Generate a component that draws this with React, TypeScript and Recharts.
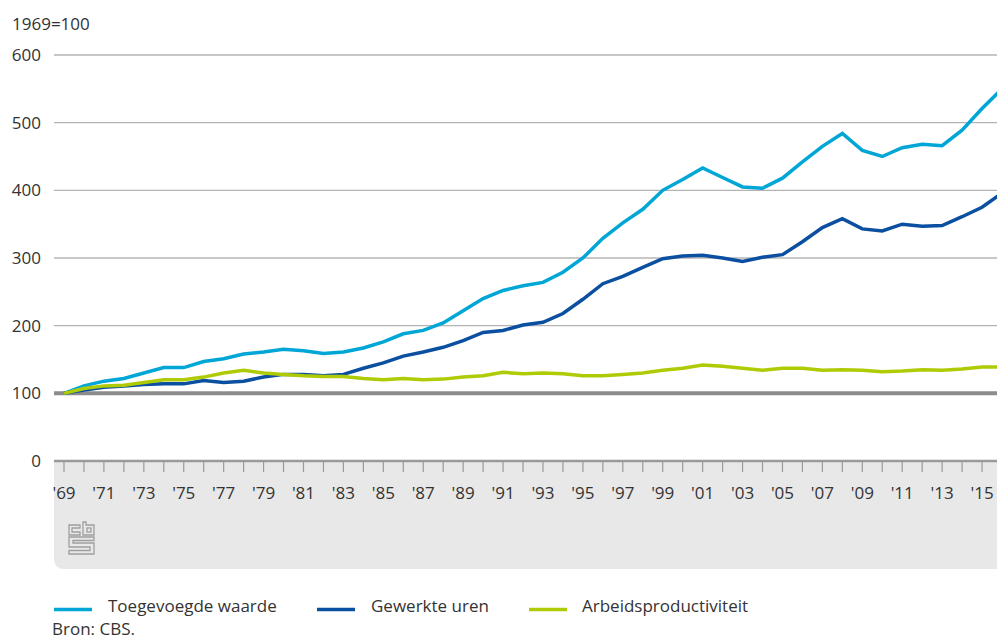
import React from "react";
import {
  LineChart,
  Line,
  XAxis,
  YAxis,
  CartesianGrid,
  ReferenceLine,
  Legend,
} from "recharts";

const years = [
  1969, 1970, 1971, 1972, 1973, 1974, 1975, 1976, 1977, 1978, 1979, 1980,
  1981, 1982, 1983, 1984, 1985, 1986, 1987, 1988, 1989, 1990, 1991, 1992,
  1993, 1994, 1995, 1996, 1997, 1998, 1999, 2000, 2001, 2002, 2003, 2004,
  2005, 2006, 2007, 2008, 2009, 2010, 2011, 2012, 2013, 2014, 2015, 2016,
];

const toegevoegdeWaarde = [
  100, 111, 118, 122, 130, 138, 138, 147, 151, 158, 161, 165,
  163, 159, 161, 167, 176, 188, 193, 204, 222, 240, 252, 259,
  264, 279, 300, 329, 352, 372, 400, 416, 433, 419, 405, 403,
  418, 442, 465, 484, 459, 450, 463, 468, 466, 489, 521, 550,
];

const gewerkteUren = [
  100, 105, 109, 111, 113, 114, 114, 119, 116, 118, 124, 128,
  128, 126, 128, 137, 145, 155, 161, 168, 178, 190, 193, 201,
  205, 218, 239, 262, 273, 286, 299, 303, 304, 300, 295, 301,
  305, 324, 345, 358, 343, 340, 350, 347, 348, 361, 375, 396,
];

const arbeidsproductiviteit = [
  100, 107, 111, 112, 116, 120, 120, 124, 130, 134, 130, 128,
  126, 125, 125, 122, 120, 122, 120, 121, 124, 126, 131, 129,
  130, 129, 126, 126, 128, 130, 134, 137, 142, 140, 137, 134,
  137, 137, 134, 135, 134, 132, 133, 135, 134, 136, 139, 139,
];

const yTicks = [0, 100, 200, 300, 400, 500, 600];

const SERIES = [
  { key: "toegevoegd", label: "Toegevoegde waarde", color: "#00a6d6" },
  { key: "uren", label: "Gewerkte uren", color: "#0b4fa0" },
  { key: "arbeid", label: "Arbeidsproductiviteit", color: "#afcb05" },
];

const data = years.map((year, i) => ({
  year,
  toegevoegd: toegevoegdeWaarde[i],
  uren: gewerkteUren[i],
  arbeid: arbeidsproductiviteit[i],
}));

const FONT = "'Open Sans', sans-serif";
const TEXT = "#333333";

const yearLabel = (y: number) =>
  (y - 1969) % 2 === 0 ? "'" + String(y).slice(2) : "";

const legendX = [
  { line: 54, text: 108 },
  { line: 317, text: 371 },
  { line: 529, text: 582 },
];

const CustomLegend = () => (
  <svg width={997} height={40} style={{ display: "block" }}>
    {SERIES.map((s, i) => (
      <g key={s.key}>
        <line
          x1={legendX[i].line}
          x2={legendX[i].line + 38}
          y1={19.5}
          y2={19.5}
          stroke={s.color}
          strokeWidth={3.5}
        />
        <text
          x={legendX[i].text}
          y={22}
          fontFamily={FONT}
          fontSize={17}
          fill={TEXT}
        >
          {s.label}
        </text>
      </g>
    ))}
  </svg>
);

const CbsLogo = () => (
  <svg
    width={28}
    height={36}
    viewBox="0 0 28 36"
    style={{ position: "absolute", left: 14, top: 60 }}
  >
    <g fill="none" stroke="#9e9e9e" strokeWidth={1.3}>
      <path d="M12 4 H1 V14 H12 V11 H4 V7 H12 Z" />
      <path d="M15 1 H18 V4 H26 V14 H15 Z" />
      <rect x={19} y={7} width={4} height={4} />
      <path d="M1 16 H26 V19.5 H5 V22 H26 V33 H1 V29.5 H22 V26 H1 Z" />
    </g>
  </svg>
);

export default function App() {
  return (
    <div
      style={{
        position: "absolute",
        left: 0,
        top: 0,
        width: 997,
        height: 639,
        overflow: "hidden",
        background: "#ffffff",
        fontFamily: FONT,
      }}
    >
      <div
        style={{
          position: "absolute",
          left: 54,
          top: 461,
          width: 960,
          height: 108,
          background: "#e8e8e8",
          borderBottomLeftRadius: 9,
        }}
      >
        <CbsLogo />
      </div>

      <div
        style={{
          position: "absolute",
          left: 12,
          top: 12,
          fontSize: 17,
          color: TEXT,
          lineHeight: "23px",
        }}
      >
        1969=100
      </div>

      <div style={{ position: "absolute", left: 0, top: 0 }}>
        <LineChart
          width={1002}
          height={639}
          data={data}
          margin={{ top: 55, right: 0, bottom: 138, left: 0 }}
        >
          <CartesianGrid
            vertical={false}
            stroke="#b4b4b4"
            strokeWidth={1.3}
          />
          <XAxis
            dataKey="year"
            type="number"
            domain={[1969, 2016]}
            ticks={years}
            interval={0}
            tickFormatter={yearLabel}
            padding={{ left: 10, right: 0 }}
            height={40}
            axisLine={{ stroke: "#9a9a9a", strokeWidth: 2.5 }}
            tickLine={{ stroke: "#9a9a9a", strokeWidth: 1.2 }}
            tickSize={11}
            tickMargin={15}
            tick={{ fontSize: 17, fill: TEXT, fontFamily: FONT }}
          />
          <YAxis
            domain={[0, 600]}
            ticks={yTicks}
            width={54}
            axisLine={false}
            tickLine={false}
            tickSize={0}
            tickMargin={13}
            tick={{ fontSize: 17, fill: TEXT, fontFamily: FONT }}
          />
          <ReferenceLine y={100} stroke="#8c8c8c" strokeWidth={4} />
          <Legend
            layout="horizontal"
            verticalAlign="middle"
            align="center"
            content={<CustomLegend />}
            wrapperStyle={{ left: 0, top: 590, width: 997, height: 40 }}
          />
          {SERIES.map((s) => (
            <Line
              key={s.key}
              type="linear"
              dataKey={s.key}
              name={s.label}
              stroke={s.color}
              strokeWidth={3.5}
              dot={false}
              activeDot={false}
              isAnimationActive={false}
            />
          ))}
        </LineChart>
      </div>

      <svg
        width={997}
        height={639}
        style={{ position: "absolute", left: 0, top: 0, pointerEvents: "none" }}
      >
        <text x={52} y={635} fontFamily={FONT} fontSize={17} fill={TEXT}>
          Bron: CBS.
        </text>
      </svg>
    </div>
  );
}
